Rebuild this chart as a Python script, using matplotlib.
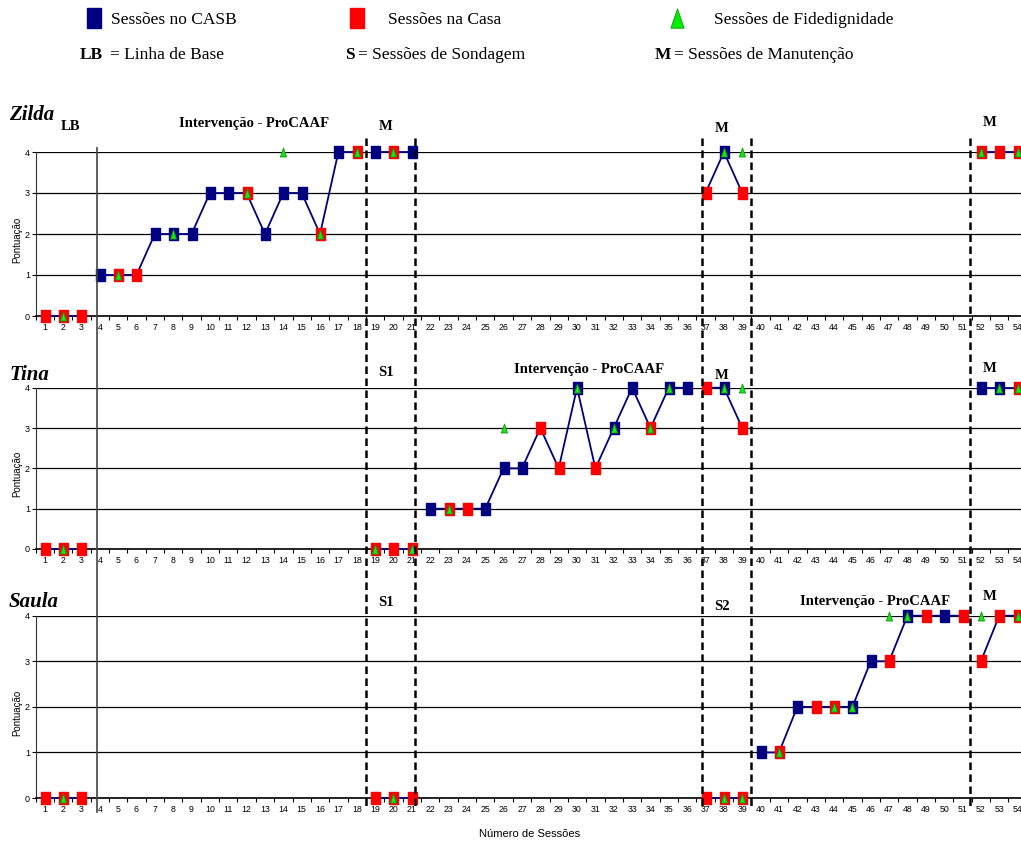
import numpy as np
import matplotlib
matplotlib.use("Agg")
import matplotlib.pyplot as plt
from matplotlib.lines import Line2D
from matplotlib import transforms

# ---------------- data ----------------
sessions_axis = list(range(1, 55))

zilda_sessions = [1, 2, 3, 4, 5, 6, 7, 8, 9, 10, 11, 12, 13, 14, 15, 16, 17, 18,
                  19, 20, 21, 37, 38, 39, 52, 53, 54]
zilda_scores = [0, 0, 0, 1, 1, 1, 2, 2, 2, 3, 3, 3, 2, 3, 3, 2, 4, 4,
                4, 4, 4, 3, 4, 3, 4, 4, 4]
zilda_place = list("RRRBRRBBBBBRBBBRBR" + "BRB" + "RBR" + "RRR")
zilda_fid_sessions = [2, 5, 8, 12, 14, 16, 18, 20, 38, 39, 52, 54]
zilda_fid_scores = [0, 1, 2, 3, 4, 2, 4, 4, 4, 4, 4, 4]

tina_sessions = [1, 2, 3, 19, 20, 21, 22, 23, 24, 25, 26, 27, 28, 29, 30, 31, 32,
                 33, 34, 35, 36, 37, 38, 39, 52, 53, 54]
tina_scores = [0, 0, 0, 0, 0, 0, 1, 1, 1, 1, 2, 2, 3, 2, 4, 2, 3,
               4, 3, 4, 4, 4, 4, 3, 4, 4, 4]
tina_place = list("RRR" + "RRR" + "BRRBBBRRBRBBRBB" + "RBR" + "BBR")
tina_fid_sessions = [2, 19, 21, 23, 26, 30, 32, 34, 35, 38, 39, 53, 54]
tina_fid_scores = [0, 0, 0, 1, 3, 4, 3, 3, 4, 4, 4, 4, 4]

saula_sessions = [1, 2, 3, 19, 20, 21, 37, 38, 39, 40, 41, 42, 43, 44, 45, 46, 47,
                  48, 49, 50, 51, 52, 53, 54]
saula_scores = [0, 0, 0, 0, 0, 0, 0, 0, 0, 1, 1, 2, 2, 2, 2, 3, 3,
                4, 4, 4, 4, 3, 4, 4]
saula_place = list("RRR" + "RRR" + "RRR" + "BRBRRBBRBRBR" + "RRR")
saula_fid_sessions = [2, 20, 38, 39, 41, 44, 45, 47, 48, 52, 54]
saula_fid_scores = [0, 0, 0, 0, 1, 2, 2, 4, 4, 4, 4]

phase_solid = [3.86]
phase_dashed = [18.5, 21.2, 36.8, 39.5, 51.4]
phase_breaks = phase_solid + phase_dashed

names = ["Zilda", "Tina", "Saula"]

# ---------------- style ----------------
NAVY = "#000080"
RED = "#FF0000"
GREEN = "#19E619"
GREEN_EDGE = "#0A9A0A"
rect = [(-0.36, -0.5), (0.36, -0.5), (0.36, 0.5), (-0.36, 0.5), (-0.36, -0.5)]
tri = [(-0.34, -0.5), (0.34, -0.5), (0.0, 0.5), (-0.34, -0.5)]

W, H = 1021, 844
fig = plt.figure(figsize=(W / 100, H / 100), dpi=100)


def fx(px):
    return px / W


def fy(py):
    return 1 - py / H


SERIF = "Liberation Serif"
SANS = "Liberation Sans"

panel_px = [(152, 316), (387.7, 549), (615.7, 798)]
left_px, right_px = 35.5, 1026.8

datasets = [
    (zilda_sessions, zilda_scores, zilda_place, zilda_fid_sessions, zilda_fid_scores),
    (tina_sessions, tina_scores, tina_place, tina_fid_sessions, tina_fid_scores),
    (saula_sessions, saula_scores, saula_place, saula_fid_sessions, saula_fid_scores),
]

axes = []
for (top, bot), (ss, vv, pp, fs, fv) in zip(panel_px, datasets):
    ax = fig.add_axes([fx(left_px), fy(bot), (right_px - left_px) / W, (bot - top) / H])
    axes.append(ax)
    ax.set_xlim(0.5, 54.5)
    ax.set_ylim(0, 4)
    ax.set_xticks(sessions_axis)
    ax.set_xticklabels([str(s) for s in sessions_axis], fontsize=6.3, family=SANS)
    ax.set_xticks(np.arange(0.5, 55, 1), minor=True)
    ax.tick_params(axis="x", which="major", length=0, pad=5)
    ax.tick_params(axis="x", which="minor", length=3, width=0.8, direction="out")
    ax.set_yticks(range(5))
    ax.set_yticklabels([str(i) for i in range(5)], fontsize=6.5, family=SANS)
    ax.tick_params(axis="y", length=3, width=0.8, pad=1)
    ax.yaxis.grid(True, color="black", lw=0.9)
    ax.set_axisbelow(True)
    for side in ["top", "right"]:
        ax.spines[side].set_visible(False)
    ax.spines["left"].set_color("#333333")
    ax.spines["bottom"].set_color("black")
    ax.spines["bottom"].set_linewidth(1.2)
    ax.spines["bottom"].set_zorder(2.5)

    # connecting line, broken at phase changes
    seg_x, seg_y = [ss[0]], [vv[0]]
    segments = []
    for i in range(1, len(ss)):
        a, b = ss[i - 1], ss[i]
        broken = (b - a != 1) or any(a < p < b for p in phase_breaks)
        if broken:
            segments.append((seg_x, seg_y))
            seg_x, seg_y = [], []
        seg_x.append(b)
        seg_y.append(vv[i])
    segments.append((seg_x, seg_y))
    for sx, sy in segments:
        ax.plot(sx, sy, color=NAVY, lw=1.3, zorder=3, clip_on=False)

    bx = [s for s, p in zip(ss, pp) if p == "B"]
    by = [v for v, p in zip(vv, pp) if p == "B"]
    rx = [s for s, p in zip(ss, pp) if p == "R"]
    ry = [v for v, p in zip(vv, pp) if p == "R"]
    ax.plot(bx, by, ls="none", marker=rect, ms=9, color=NAVY, mec=NAVY, zorder=4, clip_on=False)
    ax.plot(rx, ry, ls="none", marker=rect, ms=9, color=RED, mec=RED, zorder=4, clip_on=False)
    ax.plot(fs, fv, ls="none", marker=tri, ms=6.5, color=GREEN, mec=GREEN_EDGE, mew=0.6,
            zorder=5, clip_on=False)

# phase lines spanning all panels
trans = transforms.blended_transform_factory(axes[0].transData, fig.transFigure)
for x in phase_solid:
    fig.add_artist(Line2D([x, x], [fy(148), fy(812)], transform=trans,
                          color="#444444", lw=1.2, zorder=2))
for x in phase_dashed:
    fig.add_artist(Line2D([x, x], [fy(138), fy(808)], transform=trans,
                          color="black", lw=1.8, ls=(0, (3.0, 1.8)), zorder=2))

# panel names
for name, ypx in zip(names, [115, 375, 602]):
    fig.text(fx(9), fy(ypx), name, fontsize=15, family=SERIF, weight="bold",
             style="italic", ha="left", va="center")

# phase labels
phase_labels = [
    ("LB", 70, 127), ("Intervenção - ProCAAF", 254, 123), ("M", 386, 127),
    ("M", 722, 128), ("M", 990, 122),
    ("S1", 386, 372), ("Intervenção - ProCAAF", 589, 369), ("M", 722, 376),
    ("M", 990, 369),
    ("S1", 386, 602), ("S2", 722, 606), ("Intervenção - ProCAAF", 875, 602),
    ("M", 990, 596),
]
for txt, xp, yp in phase_labels:
    fig.text(fx(xp), fy(yp), txt, fontsize=10.5, family=SERIF, weight="bold",
             ha="center", va="center")

# y labels
for (top, bot) in panel_px:
    fig.text(fx(17), fy((top + bot) / 2 + 6), "Pontuação", rotation=90, fontsize=7,
             family=SANS, ha="center", va="center")

# x label
fig.text(fx(530), fy(834), "Número de Sessões", fontsize=8, family=SANS,
         ha="center", va="center")

# legend
fig.add_artist(Line2D([fx(94)], [fy(18)], marker=rect, ms=14, color=NAVY, ls="none",
                      transform=fig.transFigure))
fig.text(fx(111), fy(20), "Sessões no CASB", fontsize=12.5, family=SERIF, va="center")
fig.add_artist(Line2D([fx(357)], [fy(18)], marker=rect, ms=14, color=RED, ls="none",
                      transform=fig.transFigure))
fig.text(fx(388), fy(20), "Sessões na Casa", fontsize=12.5, family=SERIF, va="center")
fig.add_artist(Line2D([fx(677)], [fy(18)], marker=tri, ms=14, color="#00EE00",
                      mec=GREEN_EDGE, mew=0.6, ls="none", transform=fig.transFigure))
fig.text(fx(714), fy(20), "Sessões de Fidedignidade", fontsize=12.5, family=SERIF,
         va="center")

for bold, rest, xb, xr in [("LB", "= Linha de Base", 80, 110),
                           ("S", "= Sessões de Sondagem", 345, 358),
                           ("M", "= Sessões de Manutenção", 655, 674)]:
    fig.text(fx(xb), fy(55), bold, fontsize=12.5, family=SERIF, weight="bold", va="center")
    fig.text(fx(xr), fy(55), rest, fontsize=12.5, family=SERIF, va="center")

fig.savefig("out.png", dpi=100)
